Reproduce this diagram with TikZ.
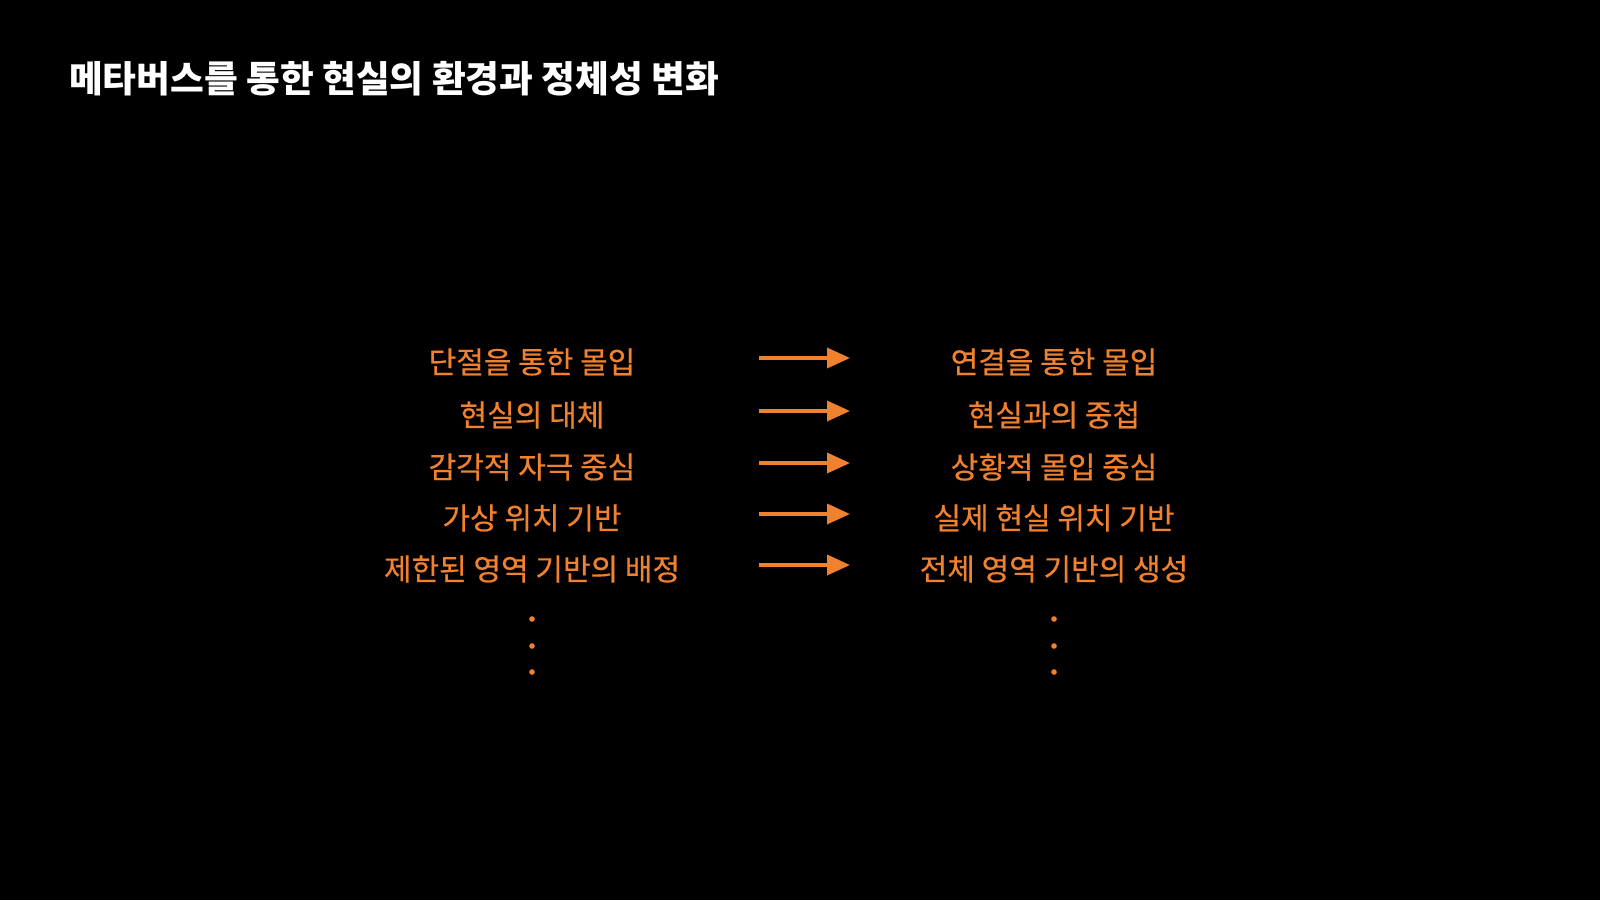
\documentclass[tikz,border=0pt]{standalone}
\usepackage{fontspec}
\usepackage{xcolor}
\usetikzlibrary{arrows.meta}

\newfontfamily\krfont[RawFeature=+palt]{Noto Sans CJK KR}
\newfontfamily\krmedium[RawFeature=+palt, FakeBold=0.5]{Noto Sans CJK KR}

\definecolor{accent}{HTML}{F0812E}

\tikzset{
	heading/.style = {anchor = west, inner sep = 0pt, text = white, font = \krfont\bfseries\fontsize{36.7}{44}\selectfont},
	item/.style = {inner sep = 0pt, text = accent, font = \krmedium\fontsize{30}{36}\selectfont},
	shift arrow/.style = {accent, line width = 3.5pt, -{Triangle[length = 23pt, width = 20pt]}},
}

\begin{document}
\begin{tikzpicture}[x = 1pt, y = -1pt]
			\def\xLEFT{532};
			\def\xRIGHT{1054};
			\def\xFROM{759};
			\def\xTO{850};

			\fill [black] (0,0) rectangle (1600,900);
			\useasboundingbox (0,0) rectangle (1600,900);

			\node [heading] (title) at (69,79) {메타버스를 통한 현실의 환경과 정체성 변화};

			\begin{scope}
				\foreach \i/\y/\before/\after in {
					1/362/단절을 통한 몰입/연결을 통한 몰입,
					2/415/현실의 대체/현실과의 중첩,
					3/467/감각적 자극 중심/상황적 몰입 중심,
					4/518/가상 위치 기반/실제 현실 위치 기반,
					5/569/제한된 영역 기반의 배정/전체 영역 기반의 생성}
				{
					\node [item] (old\i) at (\xLEFT,\y) {\before};
					\node [item] (new\i) at (\xRIGHT,\y) {\after};
					\coordinate (from\i) at (\xFROM,\y - 4);
					\coordinate (to\i) at (\xTO,\y - 4);
					\draw [shift arrow] (from\i) -- (to\i);
				}
			\end{scope}

			\begin{scope}
				\foreach \y in {619,646,672}
				{
					\fill [accent] (\xLEFT,\y) circle (2.8);
					\fill [accent] (\xRIGHT,\y) circle (2.8);
				}
			\end{scope}
		\end{tikzpicture}
\end{document}
